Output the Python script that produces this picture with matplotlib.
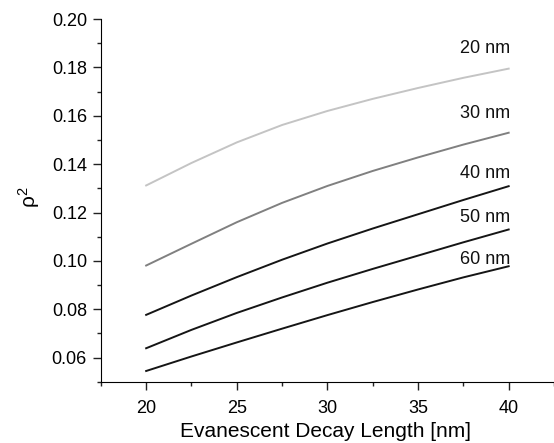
import matplotlib.pyplot as plt
from matplotlib.ticker import MultipleLocator

plt.rcParams['font.family'] = ['Liberation Sans', 'DejaVu Sans']
plt.rcParams['mathtext.fontset'] = 'custom'
plt.rcParams['mathtext.rm'] = 'Liberation Sans'

# decay length [nm]
decay = [20, 22.5, 25, 27.5, 30, 32.5, 35, 37.5, 40]

# rho^2 for each size
rho_20 = [0.1312, 0.1405, 0.1490, 0.1562, 0.1620, 0.1670, 0.1715, 0.1757, 0.1795]
rho_30 = [0.0981, 0.1071, 0.1160, 0.1240, 0.1310, 0.1372, 0.1428, 0.1481, 0.1530]
rho_40 = [0.0777, 0.0857, 0.0933, 0.1005, 0.1072, 0.1134, 0.1193, 0.1252, 0.1309]
rho_50 = [0.0639, 0.0715, 0.0785, 0.0849, 0.0910, 0.0967, 0.1022, 0.1077, 0.1130]
rho_60 = [0.0545, 0.0605, 0.0663, 0.0720, 0.0776, 0.0830, 0.0882, 0.0932, 0.0978]

labels = ['20 nm', '30 nm', '40 nm', '50 nm', '60 nm']
label_y = [0.188, 0.161, 0.136, 0.118, 0.1005]

series = [rho_20, rho_30, rho_40, rho_50, rho_60]
colors = ['#c4c4c4', '#808080', '#151515', '#151515', '#151515']

fig = plt.figure(figsize=(5.54, 4.43), dpi=100)
ax = fig.add_axes([0.182, 0.138, 0.818, 0.819])

for s, c in zip(series, colors):
    ax.plot(decay, s, color=c, lw=1.4)

for lab, ly in zip(labels, label_y):
    ax.text(38.7, ly, lab, ha='center', va='center', fontsize=13, color='#111111')

ax.set_xlim(17.5, 42.5)
ax.set_ylim(0.05, 0.20)
ax.xaxis.set_major_locator(MultipleLocator(5))
ax.xaxis.set_minor_locator(MultipleLocator(2.5))
ax.yaxis.set_minor_locator(MultipleLocator(0.01))
ax.set_yticks([0.06, 0.08, 0.10, 0.12, 0.14, 0.16, 0.18, 0.20])
ax.set_yticklabels(['0.06', '0.08', '0.10', '0.12', '0.14', '0.16', '0.18', '0.20'])

ax.spines['top'].set_visible(False)
ax.spines['right'].set_visible(False)
ax.tick_params(which='major', direction='out', length=6, width=1, labelsize=13, color='#222222')
ax.tick_params(axis='x', which='major', pad=7)
ax.tick_params(axis='y', which='major', pad=4)
ax.tick_params(which='minor', direction='out', length=3, width=1, color='#222222')

ax.set_xlabel('Evanescent Decay Length [nm]', fontsize=15)
ax.xaxis.set_label_coords(0.496, -0.11)
ax.set_ylabel(r'$\mathrm{\rho^2}$', fontsize=15)
ax.yaxis.set_label_coords(-0.13, 0.51)

fig.savefig('out.png', dpi=100)
